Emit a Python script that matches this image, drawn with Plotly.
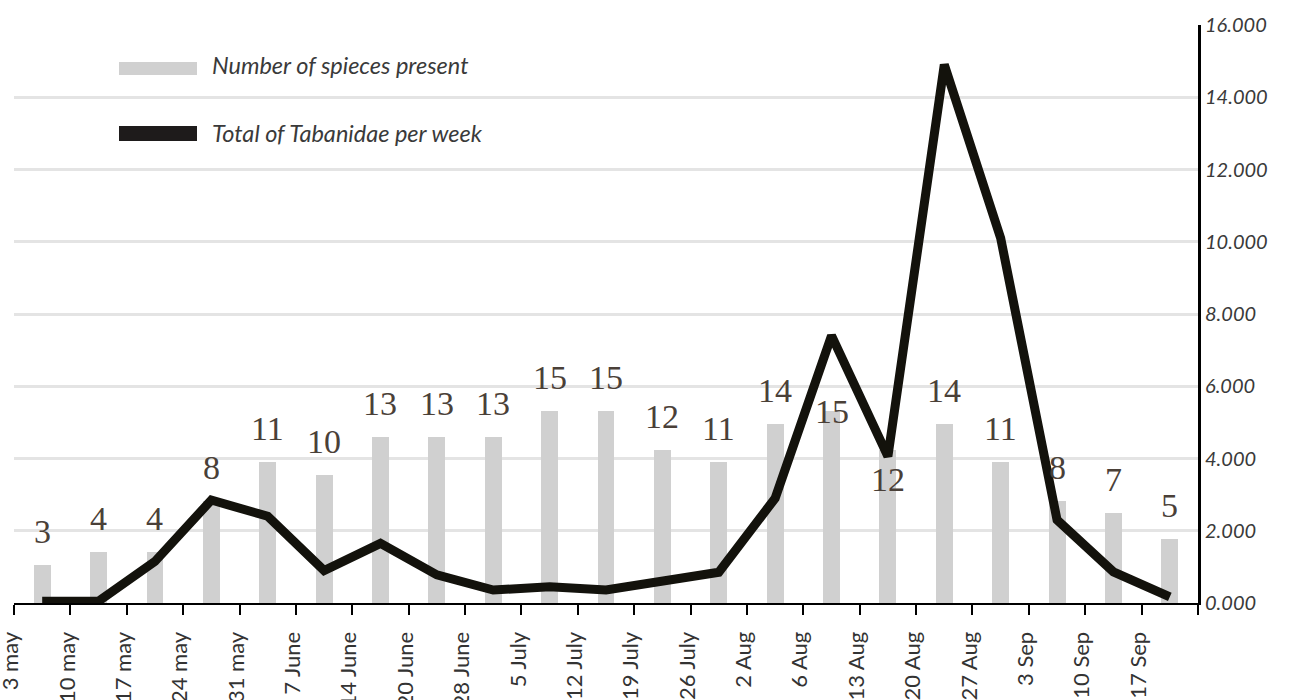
import plotly.graph_objects as go

weeks = ["3 may", "10 may", "17 may", "24 may", "31 may", "7 June", "14 June",
         "20 June", "28 June", "5 July", "12 July", "19 July", "26 July",
         "2 Aug", "6 Aug", "13 Aug", "20 Aug", "27 Aug", "3 Sep", "10 Sep", "17 Sep"]
species = [3, 4, 4, 8, 11, 10, 13, 13, 13, 15, 15, 12, 11, 14, 15, 12, 14, 11, 8, 7, 5]
tabanidae = [50, 50, 1150, 2850, 2400, 900, 1650, 780, 360, 450, 360, 620, 850,
             2900, 7400, 4060, 14900, 10100, 2300, 860, 170]
right_ticks = [0, 2000, 4000, 6000, 8000, 10000, 12000, 14000, 16000]
right_tick_text = ["0.000", "2.000", "4.000", "6.000", "8.000", "10.000",
                   "12.000", "14.000", "16.000"]

n = len(weeks)
idx = list(range(n))

# pixel gap between bar top and label baseline (positive = label above bar)
label_gap = {14: -13, 15: -42}

W, H = 1295, 700
L, T, R, B = 14, 25, 97, 97
PW, PH = W - L - R, H - T - B

fig = go.Figure()
fig.add_trace(go.Bar(x=idx, y=species, width=0.3, marker_color="#d0d0d0",
                     marker_line_width=0, yaxis="y", hoverinfo="skip"))
fig.add_trace(go.Scatter(x=idx, y=tabanidae, mode="lines", yaxis="y2",
                         line=dict(color="#13120c", width=9)))

for i, v in enumerate(species):
    gap = label_gap.get(i, 21)
    fig.add_annotation(x=i, y=v, xref="x", yref="y", text=str(v), showarrow=False,
                       yanchor="bottom", yshift=gap - 8,
                       font=dict(family="Liberation Serif", size=34, color="#4a4038"))

# legend drawn manually (page pixel positions converted to paper coords)
def px_x(p):
    return (p - L) / PW

def px_y(p):
    return (T + PH - p) / PH

fig.add_shape(type="rect", xref="paper", yref="paper", x0=px_x(119), x1=px_x(197),
              y0=px_y(75), y1=px_y(62), fillcolor="#d0d0d0", line_width=0)
fig.add_shape(type="rect", xref="paper", yref="paper", x0=px_x(119), x1=px_x(197),
              y0=px_y(141), y1=px_y(126), fillcolor="#1e1b1b", line_width=0)
legend_font = dict(family="Lato", size=23.5, color="#3a3a3a", style="italic")
fig.add_annotation(xref="paper", yref="paper", x=px_x(210), y=px_y(65), xanchor="left",
                   yanchor="middle", text="Number of spieces present", showarrow=False,
                   font=legend_font)
fig.add_annotation(xref="paper", yref="paper", x=px_x(210), y=px_y(133), xanchor="left",
                   yanchor="middle", text="Total of Tabanidae per week", showarrow=False,
                   font=legend_font)

tickvals = [i - 0.5 for i in range(n + 1)]
ticktext = weeks + [""]

fig.update_layout(
    width=W, height=H,
    margin=dict(l=L, r=R, t=T, b=B, autoexpand=False),
    paper_bgcolor="white", plot_bgcolor="white",
    showlegend=False, bargap=0,
    xaxis=dict(range=[-0.5, n - 0.5], tickmode="array", tickvals=tickvals,
               ticktext=ticktext, tickangle=-90, ticks="outside", ticklen=10,
               tickwidth=2, tickcolor="black", showline=True, linecolor="black",
               linewidth=2, showgrid=False, zeroline=False, automargin=False,
               ticklabeloverflow="allow", ticklabelshift=-3, ticklabelstandoff=8,
               tickfont=dict(family="Lato", size=22, color="#333333")),
    yaxis=dict(range=[0, 45.2], visible=False, showgrid=False, zeroline=False),
    yaxis2=dict(range=[0, 16000], overlaying="y", side="right", tickmode="array",
                tickvals=right_ticks, ticktext=right_tick_text, showgrid=True,
                gridcolor="#e4e4e4", gridwidth=3, showline=True, linecolor="black",
                linewidth=3, ticks="", zeroline=False, automargin=False,
                ticklabeloverflow="allow",
                tickfont=dict(family="Lato", size=20, color="#3a3a3a", style="italic")),
)

fig.write_html("out.html", config={"displayModeBar": False},
               post_script="document.body.style.margin='0';document.body.style.overflow='hidden';")
